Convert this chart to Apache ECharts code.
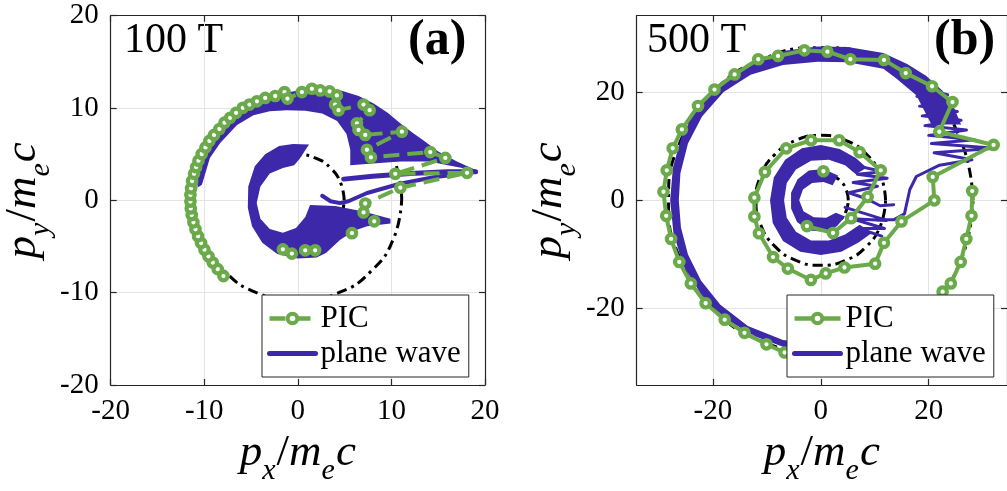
<!DOCTYPE html>
<html><head><meta charset="utf-8">
<script src="https://cdn.jsdelivr.net/npm/echarts@6/dist/echarts.min.js"></script>
<style>html,body{margin:0;padding:0;background:#fff}#c{width:1007px;height:491px}</style>
</head><body><div id="c"></div>
<script>
// ---------- DATA ----------
const ticksA = [-20, -10, 0, 10, 20];
const ticksB = [-20, 0, 20];
const labelsText = {a: '100 T', aTag: '(a)', b: '500 T', bTag: '(b)'};
const legendNames = ['PIC', 'plane wave'];

// Panel (a) PIC samples (px, py); '-' marks a gap in the drawn line
const picA = [[-7.95,-8.2],[-8.56,-7.45],[-9.09,-6.73],[-9.55,-6.06],[-9.98,-5.34],[-10.34,-4.63],[-10.66,-3.88],[-10.94,-3.13],[-11.16,-2.38],[-11.34,-1.59],[-11.44,-0.88],[-11.48,-0.13],[-11.48,0.59],[-11.41,1.30],[-11.30,2.09],[-11.09,2.87],[-10.87,3.59],[-10.62,4.30],[-10.27,5.02],[-9.87,5.73],[-9.45,6.44],[-8.95,7.09],[-8.38,7.73],[-7.84,8.41],[-7.24,8.94],[-6.60,9.48],[-5.88,10.02],[-5.17,10.37],[-4.38,10.73],[-3.49,11.09],[-2.42,11.30],[-1.43,11.73],[-1.11,11.02],[0.43,11.73],[1.50,12.09],[2.39,11.91],[3.39,11.80],[4.17,11.37],[3.99,10.37],[4.35,9.77],[7.02,10.37],[7.67,9.77],[6.31,8.34],[6.49,7.62],[7.20,7.09],[11.12,7.44],[7.38,5.48],[7.81,4.66],[14.15,5.23],[15.76,4.59],[10.41,2.87],[18.08,2.98],[10.95,1.37],[7.20,-0.34],[7.02,-1.31],[8.16,-2.27],['-','-'],[5.78,-3.56],['-','-'],[1.85,-5.41],[0.79,-5.41],[-0.64,-5.77],[-1.60,-5.31]];

// Panel (b) PIC samples
const picBStart = [[0.49,5.37]];
const picB = [[-2.56,-4.75],[2.27,-6.03],[5.62,-3.29],[8.67,0.62],[11.1,5.55],[7.2,8.9],[3.4,11.1],[-1.8,11.1],[-6.4,9.6],[-10.35,5.24],[-12.3,0.5],[-12.3,-3.0],[-11.45,-6.08],[-8.84,-10.47],[-6.1,-12.6],[-1.83,-14.7],[0.91,-13.5],[4.39,-12.4],[10.07,-11.69],[11.71,-7.85],[14.95,-3.89],[21.04,0.0],[20.74,4.33],[32.02,10.23],[21.96,12.67],[24.4,18.15],[20.62,21.07],[15.74,23.5],[11.71,25.94],[5.49,26.06],[1.23,27.46],[-3.04,27.7],[-7.92,26.67],[-11.58,26.06],[-15.97,23.26],[-19.69,20.46],[-22.74,17.42],[-25.73,13.09],[-27.43,9.62],[-28.53,5.54],[-29.14,1.59],[-28.64,-2.85],[-27.73,-7.12],[-26.21,-11.38],[-24.07,-15.34],[-21.33,-19.0],[-17.8,-22.03],[-14.14,-24.47],[-10.06,-26.59],[-6.7,-28.1],[-2.5,-28.9],[2,-29.0],[6.5,-28.3],[11,-26.5],[15.5,-23.8],[19.5,-20.3],[22.57,-16.86],[24.09,-15.34],[25.92,-11.38],[26.96,-7.12],[27.93,-2.85],[28.06,1.72]];

// Plane-wave regions, panel (a)
const pwBandA = [[-10.7,1.4],[-10.9,3.0],[-10.5,4.8],[-9.6,6.6],[-8.3,8.2],[-6.6,9.6],[-4.6,10.7],[-2.5,11.4],[0,11.9],[2.5,12.0],[4.6,11.9],[6.5,11.3],[8.1,10.5],[9.6,9.5],[11,8.3],[12.3,7.3],[13.4,6.5],[15,5.3],[17,4.2],[19.2,3.2],[17,3.6],[14,4.2],[11,4.2],[8,4.0],[5.6,3.8],[5.6,5.5],[5.2,7.2],[4.2,8.6],[2.6,9.4],[0.8,9.7],[-1.2,9.75],[-3.0,9.65],[-4.75,9.22],[-6.5,8.15],[-8.3,6.2],[-9.4,4.6],[-10.25,1.7]];
const pwCoreA = [[1.2,6.05],[-0.5,6.1],[-2.0,5.9],[-3.5,5.0],[-4.6,3.7],[-5.3,1.5],[-5.35,-0.8],[-4.9,-2.8],[-3.8,-4.6],[-2.2,-5.8],[0,-6.3],[2.0,-6.2],[3.0,-5.7],[4.5,-4.3],[6.0,-3.3],[7.4,-2.8],[9.9,-2.5],[9.9,-2.0],[7,-1.2],[4,-0.6],[1.3,-0.5],[0.8,-1.8],[-0.2,-3.0],[-1.6,-3.5],[-3.0,-3.1],[-4.0,-2.0],[-4.4,-0.3],[-4.0,1.5],[-3.0,2.9],[-1.6,3.5],[-0.4,3.8],[0.2,4.5],[0.7,5.3]];
const pwStripA1 = [[4.9,2.3],[8,2.6],[12,2.9],[16,3.1],[19,3.1]];
const pwStripA2 = [[2.6,0.5],[3.5,-0.1],[4.5,-0.3],[5.4,-0.1],[7.4,0.8],[10.9,1.8],[14.5,2.5],[18.4,3.0]];

// Plane-wave regions, panel (b)
const pwBandB = [[2,-27.6],[-6,-27.4],[-12,-25.2],[-17.5,-22.0],[-22,-17.6],[-25.5,-12],[-27.3,-6],[-27.9,0],[-27.4,6],[-25.8,11.8],[-22.8,17.2],[-18.5,21.8],[-13,25.5],[-7,27.6],[-0.6,28.4],[5,28.3],[11.6,27.2],[16,25.2],[19.5,23.0],[22.5,20.3],[24.5,17.5],[26,14],[20.5,14],[17.7,19.4],[14,22.5],[11.6,24.3],[5,25.5],[-0.6,25.6],[-7,25],[-13,23.2],[-18,20],[-22,15.5],[-24.6,10.5],[-26,5],[-26.3,0],[-25.9,-5],[-24.6,-10],[-22.2,-14.8],[-18.6,-19.3],[-13.5,-23.2],[-7,-25.8],[2,-26.8]];
const pwMidB = [[8.5,6.0],[6.5,7.8],[3.5,9.5],[0,10.2],[-3.5,9.6],[-6.6,7.5],[-8.7,4.2],[-9.4,0],[-8.9,-4.2],[-7.0,-7.5],[-3.8,-9.5],[0,-10.1],[3.8,-9.5],[7,-7.8],[9.5,-6.0],[7.2,-4.5],[4.5,-6.3],[1.5,-7.4],[-1.8,-7.4],[-4.6,-5.8],[-6.3,-3.2],[-6.8,0],[-6.3,3.2],[-4.6,5.7],[-1.8,7.3],[1.5,7.5],[4.5,6.5],[6.5,4.8]];
const pwInnerB = [[3.2,4.6],[0.5,5.8],[-2.2,5.5],[-4.3,3.9],[-5.5,1.4],[-5.5,-1.5],[-4.4,-4.0],[-2.3,-5.5],[0.5,-5.8],[3.0,-4.8],[4.5,-3.0],[2.8,-2.3],[1.0,-3.2],[-1.3,-3.1],[-3.2,-2.0],[-4.0,0],[-3.3,2.0],[-1.6,3.2],[0.5,3.4],[2.2,2.8]];
const pwWigTopB = [[7.5,6.2],[11.5,5.3],[6.8,4.8],[12.3,4.1],[6.0,3.3],[10.5,2.6],[5.2,1.4],[8.5,0.3],[11,-1.0],[13.5,-0.8]];
const pwWigBotB = [[4.5,-1.3],[12.2,-3.7],[5.8,-3.4],[11.8,-5.2],[7.0,-5.2],[11.3,-6.6]];
const pwOuterWigB = [[10.5,-3.6],[13.5,-3.6],[15.5,-2.5],[16.5,2.0],[17.7,4.4],[22.0,6.5],[28.0,7.5],[21.0,8.8],[32.3,9.6],[20.5,10.5],[28.5,11.2],[20.0,12.0],[27.0,13.0],[19.3,13.8],[26.0,14.8],[18.8,15.6],[25.3,16.4],[18.3,17.4],[24.5,18.0],[17.8,19.2],[23.5,19.5],[17.5,21]];

// Reference (dash-dot) orbits
const orbitA1 = [[4.95,0],[4.57,1.9],[3.5,3.5],[1.9,4.57],[0,4.95],[-1.9,4.57],[-3.5,3.5],[-4.57,1.9],[-4.95,0],[-4.57,-1.9],[-3.5,-3.5],[-1.9,-4.57],[0,-4.95],[1.9,-4.57],[3.5,-3.5],[4.57,-1.9],[4.95,0]];
const orbitA2 = [[11.1,0.2],[10.26,4.45],[7.85,8.05],[4.25,10.46],[0,11.3],[-4.25,10.46],[-7.85,8.05],[-10.26,4.45],[-11.1,0.2],[-10.26,-4.05],[-7.85,-7.65],[-4.25,-10.06],[0,-10.9],[4.25,-10.06],[7.85,-7.65],[10.26,-4.05],[11.1,0.2]];
const orbitB1 = [[5.1,0],[4.71,1.95],[3.61,3.61],[1.95,4.71],[0,5.1],[-1.95,4.71],[-3.61,3.61],[-4.71,1.95],[-5.1,0],[-4.71,-1.95],[-3.61,-3.61],[-1.95,-4.71],[0,-5.1],[1.95,-4.71],[3.61,-3.61],[4.71,-1.95],[5.1,0]];
const orbitB2 = [[12,0],[11.09,4.59],[8.49,8.49],[4.59,11.09],[0,12],[-4.59,11.09],[-8.49,8.49],[-11.09,4.59],[-12,0],[-11.09,-4.59],[-8.49,-8.49],[-4.59,-11.09],[0,-12],[4.59,-11.09],[8.49,-8.49],[11.09,-4.59],[12,0]];
const orbitB3 = [[28.2,0],[26.05,10.79],[19.94,19.94],[10.79,26.05],[0,28.2],[-10.79,26.05],[-19.94,19.94],[-26.05,10.79],[-28.2,0],[-26.05,-10.79],[-19.94,-19.94],[-10.79,-26.05],[0,-28.2],[10.79,-26.05],[19.94,-19.94],[26.05,-10.79],[28.2,0]];

// ---------- STYLE ----------
const G = '#6BAA4A', B = '#3C28A8', AX = '#262626', GRID = '#e3e3e3';
const SERIF = '"Liberation Serif", "DejaVu Serif", serif';

function poly(pts, xi, yi) {
  return {type:'custom', xAxisIndex:xi, yAxisIndex:yi, silent:true, z:2, clip:true,
    data:[pts[0]],
    renderItem:function(params, api){
      return {type:'polygon', shape:{points: pts.map(function(p){return api.coord(p);})}, style:{fill:B}};
    }};
}
function bline(pts, xi, yi, w, name) {
  return {type:'line', name:name||undefined, xAxisIndex:xi, yAxisIndex:yi, data:pts, symbol:'none', z:2, silent:true,
    color:B, lineStyle:{color:B, width:w, cap:'round', join:'round'}};
}
function orbit(pts, xi, yi) {
  return {type:'line', xAxisIndex:xi, yAxisIndex:yi, data:pts, symbol:'none', smooth:true, z:1, silent:true,
    lineStyle:{color:'#000', width:3, type:[10,5,3,5]}};
}
function pic(pts, xi, yi, name, dashed) {
  return {type:'line', name:name, xAxisIndex:xi, yAxisIndex:yi, data:pts, symbol:'circle', symbolSize:8.5, showSymbol:true, z:3, silent:true,
    color:G, connectNulls:false,
    lineStyle:{color:G, width:4, type: dashed ? [16,8] : 'solid'},
    itemStyle:{color:'#fff', borderColor:G, borderWidth:4.2}};
}

function axName(sub) {
  return '{i|p}{s|' + sub + '}{n|/}{i|m}{s|e}{i|c}';
}
const nameStyle = {rich:{
  i:{fontFamily:SERIF, fontStyle:'italic', fontSize:45, color:'#000'},
  n:{fontFamily:SERIF, fontSize:45, color:'#000'},
  s:{fontFamily:SERIF, fontStyle:'italic', fontSize:30, color:'#000', verticalAlign:'bottom', padding:[0,1,-10,0]}
}};
const labelStyle = {fontFamily:SERIF, fontSize:29, color:'#000'};

function mainAxis(gi, pos, min, max, ticks, interval, nameSub, gap) {
  const ax = {gridIndex:gi, type:'value', position:pos, min:min, max:max,
    axisLine:{show:true, onZero:false, lineStyle:{color:AX, width:1.2}},
    axisTick:{show:true, inside:true, length:6, lineStyle:{color:AX, width:1.2}},
    splitLine:{show:true, lineStyle:{color:GRID, width:1}},
    axisLabel:Object.assign({margin:12}, labelStyle),
    name: axName(nameSub), nameLocation:'middle', nameGap:gap, nameTextStyle:nameStyle};
  if (interval) { ax.interval = interval; }
  else {
    ax.axisTick.customValues = ticks;
    ax.axisLabel.customValues = ticks;
  }
  return ax;
}
function boxAxis(gi, pos, min, max, ticks, interval) {
  const ax = {gridIndex:gi, type:'value', position:pos, min:min, max:max,
    axisLine:{show:true, onZero:false, lineStyle:{color:AX, width:1.2}},
    axisTick:{show:true, inside:true, length:6, lineStyle:{color:AX, width:1.2}},
    splitLine:{show:false}, axisLabel:{show:false}};
  if (interval) ax.interval = interval; else ax.axisTick.customValues = ticks;
  return ax;
}

const legendBase = {orient:'vertical', backgroundColor:'#fff', borderColor:AX, borderWidth:1, borderRadius:0,
  itemWidth:46, itemHeight:12, itemGap:4, padding:[8,8,8,5], selectedMode:false, z:20,
  formatter:function(n){ return n.split('|')[0]; },
  textStyle:{fontFamily:SERIF, fontSize:31, color:'#000'}};
function legendData(suffix, dashed) {
  return [
    {name:legendNames[0] + suffix, itemStyle:{color:'#fff', borderColor:G, borderWidth:4}, lineStyle:{color:G, width:4.5, type: dashed ? [16,9] : 'solid'}},
    {name:legendNames[1] + suffix, itemStyle:{opacity:0}, lineStyle:{color:B, width:5}}
  ];
}

const option = {
  animation:false,
  backgroundColor:'#fff',
  grid:[{left:110.7, top:15.7, width:374.3, height:373.3},
        {left:636.7, top:15.7, width:375, height:373.3}],
  xAxis:[mainAxis(0,'bottom',-20,20,ticksA,10,'x',46), boxAxis(0,'top',-20,20,ticksA,10),
         mainAxis(1,'bottom',-34.1,34.5,ticksB,null,'x',46), boxAxis(1,'top',-34.1,34.5,ticksB,null)],
  yAxis:[mainAxis(0,'left',-20,20,ticksA,10,'y',52), boxAxis(0,'right',-20,20,ticksA,10),
         mainAxis(1,'left',-34.1,34.1,ticksB,null,'y',52), boxAxis(1,'right',-34.1,34.1,ticksB,null)],
  legend:[Object.assign({left:262, top:295, data:legendData('|a',true)}, legendBase),
          Object.assign({left:787, top:295, data:legendData('|b',false)}, legendBase)],
  graphic:[
    {type:'text', left:124, top:20, style:{text:labelsText.a, font:'42px ' + SERIF, fill:'#000'}},
    {type:'text', left:408, top:16, style:{text:labelsText.aTag, font:'bold 50px ' + SERIF, fill:'#000'}},
    {type:'text', left:647, top:20, style:{text:labelsText.b, font:'42px ' + SERIF, fill:'#000'}},
    {type:'text', left:934, top:16, style:{text:labelsText.bTag, font:'bold 50px ' + SERIF, fill:'#000'}}
  ],
  series:[
    // panel (a)
    orbit(orbitA1,0,0), orbit(orbitA2,0,0),
    poly(pwBandA,0,0), poly(pwCoreA,0,0),
    bline(pwStripA1,0,0,5,'plane wave|a'), bline(pwStripA2,0,0,4),
    pic(picA,0,0,'PIC|a',true),
    // panel (b)
    orbit(orbitB1,2,2), orbit(orbitB2,2,2), orbit(orbitB3,2,2),
    poly(pwBandB,2,2), poly(pwMidB,2,2), poly(pwInnerB,2,2),
    bline(pwOuterWigB,2,2,3,'plane wave|b'), bline(pwWigTopB,2,2,3), bline(pwWigBotB,2,2,3),
    pic(picB,2,2,'PIC|b',false),
    pic(picBStart,2,2,'start|b',false)
  ]
};
const chart = echarts.init(document.getElementById('c'));
chart.setOption(option);
</script>
</body></html>
